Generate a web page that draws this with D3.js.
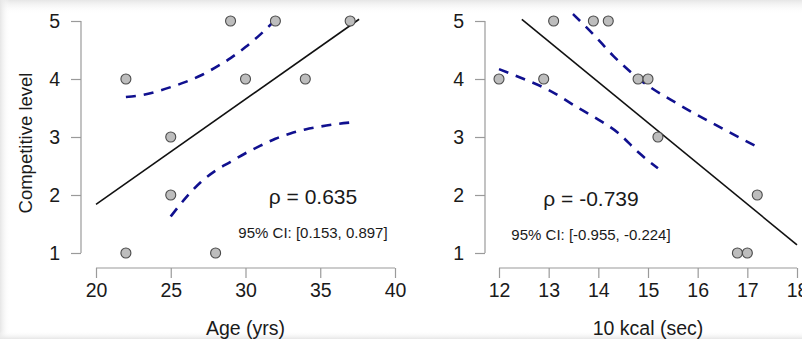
<!DOCTYPE html>
<html>
<head>
<meta charset="utf-8">
<script src="https://cdn.jsdelivr.net/npm/d3@7/dist/d3.min.js"></script>
<style>
  body { margin: 0; background: #fff; }
  svg { display: block; font-family: "Liberation Sans", Arial, sans-serif; }
</style>
</head>
<body>
<svg width="802" height="339"></svg>
<script>
// data
var age      = [22, 22, 25, 25, 28, 29, 30, 32, 34, 37];
var ageLevel = [4, 1, 3, 2, 1, 5, 4, 5, 4, 5];
var kcal      = [12.0, 12.9, 13.1, 13.9, 14.2, 14.8, 15.0, 15.2, 17.2, 16.8, 17.0];
var kcalLevel = [4, 4, 5, 5, 5, 4, 4, 3, 2, 1, 1];

// regression lines (end points)
var ageFitX = [20, 37.6], ageFitY = [1.84, 5.03];
var kcalFitX = [12.46, 18.0], kcalFitY = [5.03, 1.14];

// dashed bands
var ageUpX = [22, 23, 24, 25, 26, 27, 28, 29, 30, 31, 32];
var ageUpY = [3.69, 3.72, 3.78, 3.86, 3.95, 4.06, 4.2, 4.36, 4.55, 4.77, 5.02];
var ageLoX = [25, 26, 27, 28, 29, 30, 31, 32, 33, 34, 35, 36, 37];
var ageLoY = [1.63, 1.95, 2.22, 2.42, 2.57, 2.72, 2.85, 2.97, 3.06, 3.13, 3.18, 3.22, 3.25];
var kcalUpX = [13.49, 13.9, 14.3, 14.85, 15.6, 16.4, 17.2];
var kcalUpY = [5.12, 4.77, 4.4, 3.98, 3.57, 3.19, 2.83];
var kcalLoX = [12.0, 12.5, 13.0, 13.6, 14.0, 14.4, 14.8, 15.2];
var kcalLoY = [4.17, 4.0, 3.81, 3.5, 3.3, 3.07, 2.74, 2.46];

var levelTicks = [1, 2, 3, 4, 5];
var ageTicks = [20, 25, 30, 35, 40];
var kcalTicks = [12, 13, 14, 15, 16, 17, 18];

var svg = d3.select("svg");

// soft shadow at the edges
var defs = svg.append("defs");
function grad(id, x1, y1, x2, y2) {
  var gr = defs.append("linearGradient").attr("id", id)
    .attr("x1", x1).attr("y1", y1).attr("x2", x2).attr("y2", y2);
  gr.append("stop").attr("offset", 0).attr("stop-color", "#e6e6e6");
  gr.append("stop").attr("offset", 1).attr("stop-color", "#fff").attr("stop-opacity", 0);
}
grad("gTop", 0, 0, 0, 1);
grad("gLeft", 0, 0, 1, 0);
grad("gBot", 0, 1, 0, 0);
svg.append("rect").attr("width", 802).attr("height", 14).attr("fill", "url(#gTop)");
svg.append("rect").attr("width", 10).attr("height", 339).attr("fill", "url(#gLeft)");
svg.append("rect").attr("y", 331).attr("width", 802).attr("height", 8).attr("fill", "url(#gBot)");

var y = d3.scaleLinear().domain([1, 5]).range([253, 21]);

function zip(a, b) { return a.map(function(v, i) { return [v, b[i]]; }); }

function panel(opt) {
  var x = d3.scaleLinear().domain(opt.domain).range(opt.range);
  var g = svg.append("g");

  // y axis
  var ya = g.append("g")
      .attr("transform", "translate(" + opt.yAxisX + ",0)")
      .call(d3.axisLeft(y).tickValues(levelTicks).tickSize(10).tickPadding(11).tickFormat(d3.format("d")));
  // x axis
  var xa = g.append("g")
      .attr("transform", "translate(0,268)")
      .call(d3.axisBottom(x).tickValues(opt.ticks).tickSize(10).tickPadding(5).tickFormat(d3.format("d")));
  [ya, xa].forEach(function(a) {
    a.select(".domain").attr("stroke", "#9a9a9a").attr("stroke-width", 1.2);
    a.selectAll(".tick line").attr("stroke", "#9a9a9a").attr("stroke-width", 1.2);
    a.selectAll("text").attr("fill", "#1a1a1a").style("font-size", "19.5px")
      .style("font-family", "Liberation Sans, Arial, sans-serif");
  });
  // remove the outer tick stubs of the domain paths
  ya.select(".domain").attr("d", "M0," + y(1) + "V" + y(5));
  xa.select(".domain").attr("d", "M" + x(opt.domain[0]) + ",0H" + x(opt.domain[1]));

  g.append("text")
      .attr("x", x((opt.domain[0] + opt.domain[1]) / 2) + (opt.titleDx || 0))
      .attr("y", 335)
      .attr("text-anchor", "middle")
      .attr("fill", "#1a1a1a")
      .style("font-size", "19.5px")
      .text(opt.title);

  var line = d3.line().x(function(d) { return x(d[0]); }).y(function(d) { return y(d[1]); });

  g.append("path").datum(zip(opt.fitX, opt.fitY))
      .attr("d", line).attr("fill", "none").attr("stroke", "#111").attr("stroke-width", 1.6);

  [zip(opt.upX, opt.upY), zip(opt.loX, opt.loY)].forEach(function(b) {
    g.append("path").datum(b)
        .attr("d", line.curve(d3.curveMonotoneX))
        .attr("fill", "none")
        .attr("stroke", "#10108f")
        .attr("stroke-width", 2.6)
        .attr("stroke-dasharray", "10,8");
  });

  g.selectAll("circle.pt").data(zip(opt.px, opt.py)).enter().append("circle")
      .attr("class", "pt")
      .attr("cx", function(d) { return x(d[0]); })
      .attr("cy", function(d) { return y(d[1]); })
      .attr("r", 5)
      .attr("fill", "#bdbdbd")
      .attr("stroke", "#4a4a4a")
      .attr("stroke-width", 1.1);

  g.append("text")
      .attr("x", opt.labelX).attr("y", opt.rhoY)
      .attr("text-anchor", "middle").attr("fill", "#1a1a1a")
      .style("font-size", "21px")
      .text(opt.rho);
  g.append("text")
      .attr("x", opt.labelX).attr("y", opt.ciY)
      .attr("text-anchor", "middle").attr("fill", "#1a1a1a")
      .style("font-size", "15px")
      .text(opt.ci);
}

panel({
  domain: [20, 40], range: [96, 395], ticks: ageTicks, yAxisX: 81,
  title: "Age (yrs)", px: age, py: ageLevel,
  fitX: ageFitX, fitY: ageFitY,
  upX: ageUpX, upY: ageUpY, loX: ageLoX, loY: ageLoY,
  labelX: 313, rhoY: 204, ciY: 238,
  rho: "\u03c1 = 0.635", ci: "95% CI: [0.153, 0.897]"
});

panel({
  domain: [12, 18], range: [499, 797], ticks: kcalTicks, yAxisX: 485,
  title: "10 kcal (sec)", px: kcal, py: kcalLevel,
  fitX: kcalFitX, fitY: kcalFitY,
  upX: kcalUpX, upY: kcalUpY, loX: kcalLoX, loY: kcalLoY,
  labelX: 591, rhoY: 206, ciY: 240,
  rho: "\u03c1 = -0.739", ci: "95% CI: [-0.955, -0.224]"
});

svg.append("text")
    .attr("transform", "translate(32,143) rotate(-90)")
    .attr("text-anchor", "middle")
    .attr("fill", "#1a1a1a")
    .style("font-size", "18.5px")
    .text("Competitive level");
</script>
</body>
</html>
